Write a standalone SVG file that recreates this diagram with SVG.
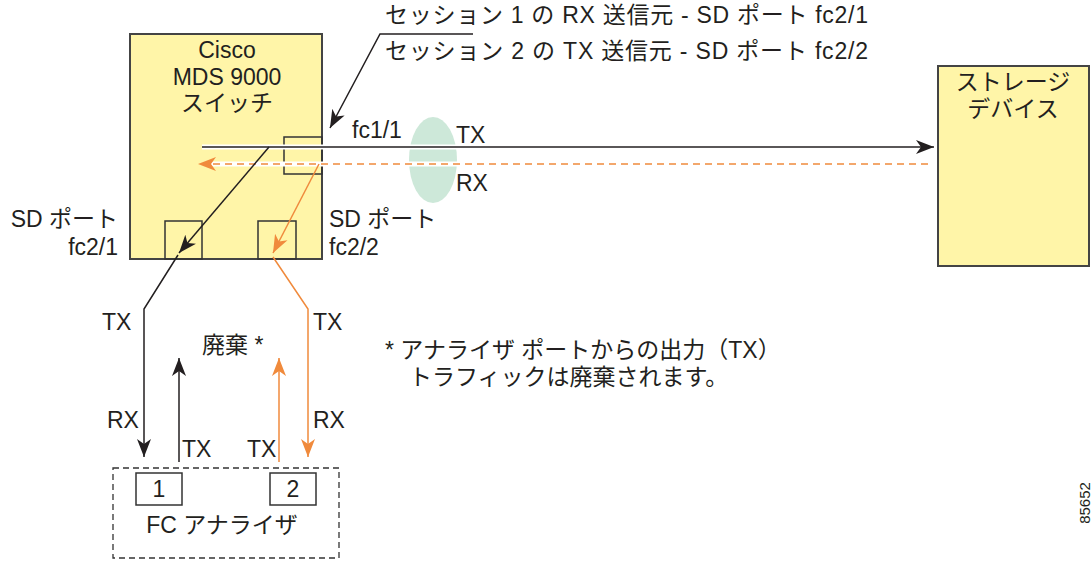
<svg xmlns="http://www.w3.org/2000/svg" width="1092" height="561" viewBox="0 0 1092 561">
<style>
text{font-family:"Liberation Sans","Noto Sans CJK JP",sans-serif;font-size:23px;fill:#231f20}
.box{fill:#fff5a8;stroke:#444;stroke-width:2}
.port{fill:none;stroke:#333;stroke-width:1.5}
.blk{fill:none;stroke:#231f20;stroke-width:1.5}
.org{fill:none;stroke:#f08a3c;stroke-width:1.5}
.halo{fill:none;stroke:#fff;stroke-width:5}
</style>
<defs>
<marker id="ab" markerUnits="userSpaceOnUse" markerWidth="20" markerHeight="16" refX="18" refY="8" orient="auto"><path d="M0,1 L18,8 L0,15 L5,8 z" fill="#231f20"/></marker>
<marker id="ao" markerUnits="userSpaceOnUse" markerWidth="20" markerHeight="16" refX="18" refY="8" orient="auto"><path d="M0,1 L18,8 L0,15 L5,8 z" fill="#f08a3c"/></marker>
</defs>
<g id="switch">
<rect class="box" x="130" y="34" width="192" height="225"/>
<text x="227" y="58" text-anchor="middle">Cisco</text>
<text x="227" y="85" text-anchor="middle">MDS 9000</text>
<text x="227" y="111" text-anchor="middle">スイッチ</text>
<rect class="port" x="284" y="137" width="38" height="37"/>
<rect class="port" x="165" y="221" width="37" height="38"/>
<rect class="port" x="258" y="221" width="38" height="38"/>
</g>
<g id="storage">
<rect class="box" x="938" y="66" width="151" height="200"/>
<text x="1013" y="90" text-anchor="middle">ストレージ</text>
<text x="1013" y="117" text-anchor="middle">デバイス</text>
</g>
<g id="link">
<ellipse cx="433" cy="160" rx="24" ry="43" fill="#cde8d9"/>
</g>
<g id="analyzer">
<rect x="113" y="468" width="226" height="90" fill="none" stroke="#333" stroke-width="1.3" stroke-dasharray="6,4"/>
<rect class="port" x="136" y="473" width="46" height="32"/>
<rect class="port" x="270" y="473" width="46" height="32"/>
<text x="159" y="497" text-anchor="middle">1</text>
<text x="293" y="497" text-anchor="middle">2</text>
<text x="222" y="533" text-anchor="middle">FC アナライザ</text>
</g>
<g id="connectors">
<line class="halo" x1="202" y1="147" x2="920" y2="147"/>
<line class="blk" x1="202" y1="147" x2="934" y2="147" marker-end="url(#ab)"/>
<line class="halo" x1="205" y1="164" x2="928" y2="164"/>
<line class="org" x1="928" y1="164" x2="198" y2="164" stroke-dasharray="7,5" marker-end="url(#ao)"/>
<line class="blk" x1="269" y1="147" x2="179" y2="253" marker-end="url(#ab)"/>
<polyline class="blk" points="178,255 144,309 144,457" marker-end="url(#ab)"/>
<line class="org" x1="319" y1="164" x2="273" y2="253" marker-end="url(#ao)"/>
<polyline class="org" points="273,257 308,309 308,457" marker-end="url(#ao)"/>
<line class="blk" x1="179" y1="462" x2="179" y2="358" marker-end="url(#ab)"/>
<line class="org" x1="279" y1="462" x2="279" y2="358" marker-end="url(#ao)"/>
<polyline class="blk" points="473,34 380,34 330,128" stroke-width="1.3" marker-end="url(#ab)"/>
</g>
<g id="labels">
<text x="385" y="23" textLength="483" lengthAdjust="spacing">セッション 1 の RX 送信元 - SD ポート fc2/1</text>
<text x="385" y="59" textLength="483" lengthAdjust="spacing">セッション 2 の TX 送信元 - SD ポート fc2/2</text>
<text x="352" y="138">fc1/1</text>
<text x="456" y="143">TX</text>
<text x="456" y="191">RX</text>
<text x="118" y="227" text-anchor="end">SD ポート</text>
<text x="118" y="255" text-anchor="end">fc2/1</text>
<text x="329" y="227">SD ポート</text>
<text x="329" y="255">fc2/2</text>
<text x="102" y="330">TX</text>
<text x="107" y="428">RX</text>
<text x="313" y="330">TX</text>
<text x="313" y="428">RX</text>
<text x="202" y="353">廃棄 *</text>
<text x="182" y="457">TX</text>
<text x="247" y="457">TX</text>
<text x="385" y="358">* アナライザ ポートからの出力（TX）</text>
<text x="409" y="385">トラフィックは廃棄されます。</text>
<text transform="translate(1090,503) rotate(-90)" text-anchor="middle" style="font-size:15px">85652</text>
</g>
</svg>
